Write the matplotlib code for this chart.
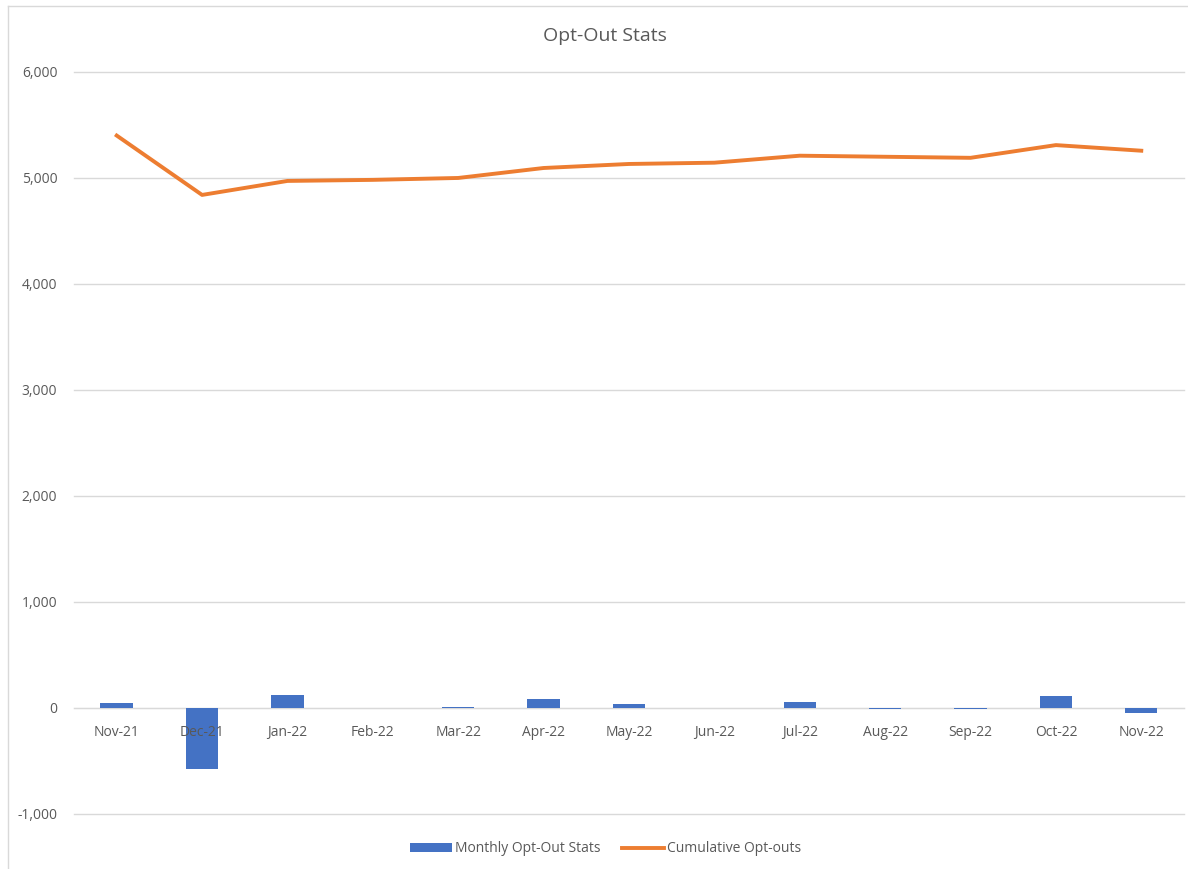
import numpy as np
import matplotlib.pyplot as plt
from matplotlib.lines import Line2D
from matplotlib.ticker import FuncFormatter

# values
months = ['Nov-21', 'Dec-21', 'Jan-22', 'Feb-22', 'Mar-22', 'Apr-22', 'May-22',
          'Jun-22', 'Jul-22', 'Aug-22', 'Sep-22', 'Oct-22', 'Nov-22']
monthly = [45, -575, 125, 0, 12, 82, 38, 0, 54, -10, -10, 110, -50]
cumulative = [5400, 4840, 4972, 4982, 5000, 5094, 5132, 5144, 5210, 5200, 5190, 5310, 5257]

plt.rcParams['font.family'] = ['Open Sans', 'DejaVu Sans']
text_col = '#595959'

fig = plt.figure(figsize=(11.88, 8.69), dpi=100)
ax = fig.add_axes([0.0623, 0.0633, 0.9343, 0.8539])

x = np.arange(len(months))
bars = ax.bar(x, monthly, width=0.38, color='#4472C4', label='Monthly Opt-Out Stats', zorder=2)
line, = ax.plot(x, cumulative, color='#ED7D31', lw=2.8, label='Cumulative Opt-outs', zorder=3)

ax.set_xlim(-0.5, len(months) - 0.5)
ax.set_ylim(-1000, 6000)
ax.set_yticks(range(-1000, 6001, 1000))
ax.yaxis.set_major_formatter(FuncFormatter(lambda v, p: f'{v:,.0f}'))
# gridlines drawn by hand so tick labels stay on top of the bars
for t in range(-1000, 6001, 1000):
    ax.axhline(t, color='#D9D9D9', lw=1, zorder=0, clip_on=False)

for s in ['top', 'right', 'left']:
    ax.spines[s].set_visible(False)
ax.spines['bottom'].set_position(('data', 0))
ax.spines['bottom'].set_color('#D9D9D9')
ax.spines['bottom'].set_zorder(1)

ax.set_xticks(x)
ax.set_xticklabels(months)
ax.tick_params(axis='both', length=0, colors=text_col, labelsize=10)
ax.tick_params(axis='x', pad=12)
ax.tick_params(axis='y', pad=12)
ax.xaxis.set_zorder(4)

fig.text(0.509, 0.958, 'Opt-Out Stats', ha='center', va='center', fontsize=14, color=text_col)

ax.legend(handles=[bars, line], loc='center', bbox_to_anchor=(0.479, -0.047), ncol=2,
          frameon=False, fontsize=10, labelcolor=text_col, handlelength=3.0,
          handleheight=0.7, columnspacing=1.6, handletextpad=0.2)

# chart-area border (only top and left visible in the reference crop)
fig.add_artist(Line2D([8 / 1188, 8 / 1188], [0, 1 - 6 / 869], transform=fig.transFigure,
                      color='#D9D9D9', lw=1))
fig.add_artist(Line2D([8 / 1188, 1], [1 - 6 / 869, 1 - 6 / 869], transform=fig.transFigure,
                      color='#D9D9D9', lw=1))

fig.savefig('out.png', dpi=100)
